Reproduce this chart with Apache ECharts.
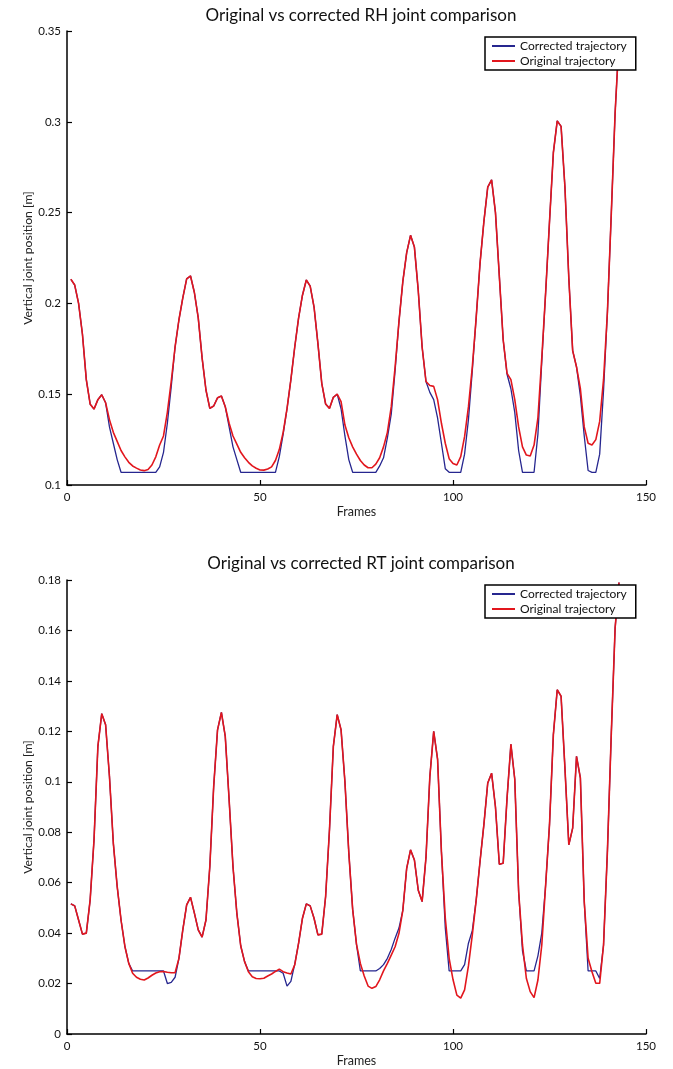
<!DOCTYPE html>
<html>
<head>
<meta charset="utf-8">
<title>RH / RT joint comparison</title>
<script src="https://cdn.jsdelivr.net/npm/echarts@6/dist/echarts.min.js"></script>
<style>
  html, body { margin: 0; padding: 0; background: #fff; }
  #chart { width: 673px; height: 1069px; }
</style>
</head>
<body>
<div id="chart"></div>
<script>
// x axis ticks (frames) and y axis ticks for the two panels
const frameTicks = [0, 50, 100, 150];
const rhTicks = [0.1, 0.15, 0.2, 0.25, 0.3, 0.35];
const rtTicks = [0, 0.02, 0.04, 0.06, 0.08, 0.1, 0.12, 0.14, 0.16, 0.18];

// RH joint, frames 1..143
const rhOriginal = [
  0.2133, 0.2101, 0.200, 0.183, 0.158, 0.1445, 0.1418, 0.147, 0.1497, 0.1453,
  0.136, 0.129, 0.124, 0.119, 0.1155, 0.1125, 0.1105, 0.1093, 0.1083, 0.1079,
  0.1085, 0.111, 0.1155, 0.122, 0.127, 0.140, 0.157, 0.176, 0.191, 0.203,
  0.2135, 0.2151, 0.206, 0.192, 0.170, 0.1523, 0.1422, 0.1435, 0.148, 0.149,
  0.1431, 0.134, 0.127, 0.1225, 0.118, 0.115, 0.1125, 0.1105, 0.1092, 0.1083,
  0.1082, 0.1088, 0.110, 0.1135, 0.1195, 0.129, 0.142, 0.158, 0.176, 0.192,
  0.2045, 0.2129, 0.2095, 0.198, 0.178, 0.156, 0.1446, 0.1422, 0.1483, 0.150,
  0.1459, 0.133, 0.126, 0.121, 0.117, 0.1135, 0.111, 0.1095, 0.1095, 0.1115,
  0.115, 0.121, 0.129, 0.143, 0.165, 0.190, 0.212, 0.228, 0.2375, 0.231,
  0.207, 0.176, 0.157, 0.1548, 0.1543, 0.147, 0.134, 0.123, 0.1145, 0.1119,
  0.111, 0.1156, 0.1266, 0.143, 0.165, 0.192, 0.222, 0.245, 0.264, 0.268,
  0.250, 0.215, 0.180, 0.1615, 0.158, 0.147, 0.132, 0.121, 0.1165, 0.116,
  0.122, 0.137, 0.170, 0.206, 0.245, 0.283, 0.3005, 0.2975, 0.264, 0.214,
  0.174, 0.165, 0.153, 0.132, 0.123, 0.122, 0.125, 0.135, 0.158, 0.195,
  0.249, 0.305, 0.345
];
const rhCorrected = [
  0.2133, 0.2101, 0.200, 0.183, 0.158, 0.1445, 0.1418, 0.147, 0.1497, 0.1453,
  0.132, 0.123, 0.114, 0.107, 0.107, 0.107, 0.107, 0.107, 0.107, 0.107,
  0.107, 0.107, 0.107, 0.110, 0.118, 0.134, 0.154, 0.176, 0.191, 0.203,
  0.2135, 0.2151, 0.206, 0.192, 0.170, 0.1523, 0.1422, 0.1435, 0.148, 0.149,
  0.1431, 0.132, 0.121, 0.114, 0.107, 0.107, 0.107, 0.107, 0.107, 0.107,
  0.107, 0.107, 0.107, 0.107, 0.1156, 0.128, 0.142, 0.158, 0.176, 0.192,
  0.2045, 0.2129, 0.2095, 0.198, 0.178, 0.156, 0.1446, 0.1422, 0.1483, 0.150,
  0.142, 0.127, 0.114, 0.107, 0.107, 0.107, 0.107, 0.107, 0.107, 0.107,
  0.1105, 0.115, 0.126, 0.139, 0.163, 0.190, 0.212, 0.228, 0.2375, 0.231,
  0.207, 0.176, 0.157, 0.151, 0.147, 0.137, 0.123, 0.109, 0.107, 0.107,
  0.107, 0.107, 0.117, 0.136, 0.163, 0.192, 0.222, 0.245, 0.264, 0.268,
  0.250, 0.215, 0.180, 0.161, 0.153, 0.140, 0.119, 0.107, 0.107, 0.107,
  0.107, 0.128, 0.168, 0.206, 0.245, 0.283, 0.3005, 0.2975, 0.264, 0.214,
  0.174, 0.165, 0.149, 0.127, 0.108, 0.107, 0.107, 0.117, 0.152, 0.195,
  0.249, 0.305, 0.345
];

// RT joint, frames 1..143
const rtOriginal = [
  0.0516, 0.0508, 0.0452, 0.0396, 0.040, 0.0532, 0.077, 0.114, 0.127, 0.1226,
  0.1021, 0.0757, 0.0585, 0.0452, 0.0347, 0.028, 0.0241, 0.0225, 0.0217, 0.0214,
  0.0222, 0.0233, 0.0242, 0.0247, 0.0248, 0.0245, 0.0243, 0.0243, 0.030, 0.0413,
  0.0512, 0.0542, 0.0479, 0.0413, 0.0384, 0.0452, 0.0664, 0.0981, 0.1206, 0.1275,
  0.118, 0.0929, 0.0664, 0.0479, 0.035, 0.0287, 0.0247, 0.0227, 0.022, 0.0219,
  0.0221, 0.023, 0.0238, 0.0248, 0.0257, 0.0247, 0.0242, 0.0238, 0.0274, 0.036,
  0.0459, 0.0516, 0.0508, 0.0459, 0.0393, 0.0396, 0.0545, 0.081, 0.114, 0.1266,
  0.1206, 0.100, 0.072, 0.0495, 0.0355, 0.028, 0.023, 0.019, 0.0181, 0.0188,
  0.0215, 0.025, 0.028, 0.0313, 0.0346, 0.0399, 0.049, 0.0657, 0.073, 0.069,
  0.057, 0.0525, 0.070, 0.102, 0.120, 0.109, 0.0723, 0.046, 0.030, 0.0216,
  0.0154, 0.0142, 0.0175, 0.027, 0.0393, 0.053, 0.0684, 0.083, 0.0995, 0.1034,
  0.090, 0.0673, 0.0677, 0.0935, 0.1149, 0.101, 0.0565, 0.0353, 0.0221, 0.0168,
  0.0144, 0.0214, 0.0353, 0.0591, 0.083, 0.1187, 0.1365, 0.1339, 0.1054, 0.075,
  0.0816, 0.1101, 0.1015, 0.0525, 0.030, 0.0247, 0.0201, 0.0201, 0.0353, 0.0723,
  0.1187, 0.161, 0.179
];
const rtCorrected = [
  0.0516, 0.0508, 0.0452, 0.0396, 0.040, 0.0532, 0.077, 0.114, 0.127, 0.1226,
  0.1021, 0.0757, 0.0585, 0.0452, 0.0347, 0.028, 0.025, 0.025, 0.025, 0.025,
  0.025, 0.025, 0.025, 0.025, 0.025, 0.020, 0.0205, 0.0225, 0.030, 0.0413,
  0.0512, 0.0542, 0.0479, 0.0413, 0.0384, 0.0452, 0.0664, 0.0981, 0.1206, 0.1275,
  0.118, 0.0929, 0.0664, 0.0479, 0.035, 0.0287, 0.025, 0.025, 0.025, 0.025,
  0.025, 0.025, 0.025, 0.025, 0.025, 0.0241, 0.019, 0.0209, 0.0277, 0.036,
  0.0459, 0.0516, 0.0508, 0.0459, 0.0393, 0.0396, 0.0545, 0.081, 0.114, 0.1266,
  0.1206, 0.100, 0.072, 0.0495, 0.0355, 0.025, 0.025, 0.025, 0.025, 0.025,
  0.026, 0.0275, 0.030, 0.0335, 0.038, 0.042, 0.049, 0.0657, 0.073, 0.069,
  0.057, 0.0525, 0.070, 0.102, 0.120, 0.109, 0.0723, 0.042, 0.025, 0.025,
  0.025, 0.025, 0.0275, 0.036, 0.041, 0.053, 0.0684, 0.083, 0.0995, 0.1034,
  0.090, 0.0673, 0.0677, 0.0935, 0.1149, 0.101, 0.0565, 0.033, 0.025, 0.025,
  0.025, 0.031, 0.040, 0.0591, 0.083, 0.1187, 0.1365, 0.1339, 0.1054, 0.075,
  0.0816, 0.1101, 0.1015, 0.0525, 0.025, 0.025, 0.025, 0.022, 0.0353, 0.0723,
  0.1187, 0.161, 0.179
];

const BLUE = '#26268f';
const RED = '#e2161d';
const FONT = 'Lato, "Noto Sans", sans-serif';

// turn a value list into [frame, value] pairs, frames start at 1
function toPairs(values) {
  return values.map((v, i) => [i + 1, v]);
}

function xAxisFor(gridIndex) {
  return {
    type: 'value',
    gridIndex: gridIndex,
    min: frameTicks[0],
    max: frameTicks[frameTicks.length - 1],
    interval: frameTicks[1] - frameTicks[0],
    name: 'Frames',
    nameLocation: 'middle',
    nameGap: 20,
    nameMoveOverlap: false,
    nameTextStyle: { color: '#222', fontSize: 12.5, fontFamily: FONT },
    axisLine: { show: true, lineStyle: { color: '#000', width: 1.5 } },
    axisTick: { show: true, inside: true, length: 5, lineStyle: { color: '#000', width: 1.2 } },
    axisLabel: { color: '#111', fontSize: 11.5, fontFamily: FONT, margin: 6 },
    splitLine: { show: false }
  };
}

function yAxisFor(gridIndex, ticks) {
  return {
    type: 'value',
    gridIndex: gridIndex,
    min: ticks[0],
    max: ticks[ticks.length - 1],
    interval: ticks[1] - ticks[0],
    name: 'Vertical joint position [m]',
    nameLocation: 'middle',
    nameGap: 33,
    // keep the name where nameGap puts it (v6 would push it past the labels)
    nameMoveOverlap: false,
    nameTextStyle: { color: '#222', fontSize: 12.2, fontFamily: FONT },
    axisLine: { show: true, lineStyle: { color: '#000', width: 1.5 } },
    axisTick: { show: true, inside: true, length: 5, lineStyle: { color: '#000', width: 1.2 } },
    axisLabel: {
      color: '#111', fontSize: 11.5, fontFamily: FONT, margin: 6,
      formatter: v => String(Math.round(v * 1000) / 1000)
    },
    splitLine: { show: false }
  };
}

function legendFor(top) {
  return {
    data: ['Corrected trajectory', 'Original trajectory'],
    orient: 'vertical',
    left: 485,
    top: top,
    backgroundColor: '#fff',
    borderColor: '#000',
    borderWidth: 1.5,
    borderRadius: 0,
    padding: [2, 9, 2, 7],
    itemGap: 1,
    itemWidth: 23,
    itemHeight: 2,
    icon: 'rect',
    selectedMode: false,
    z: 10,
    textStyle: { color: '#111', fontSize: 12, fontFamily: FONT, lineHeight: 14 }
  };
}

function lineSeries(name, color, width, values, gridIndex) {
  return {
    name: name,
    type: 'line',
    xAxisIndex: gridIndex,
    yAxisIndex: gridIndex,
    data: toPairs(values),
    showSymbol: false,
    symbol: 'none',
    animation: false,
    lineStyle: { color: color, width: width },
    itemStyle: { color: color }
  };
}

const chart = echarts.init(document.getElementById('chart'));
chart.setOption({
  backgroundColor: '#fff',
  animation: false,
  title: [
    {
      text: 'Original vs corrected RH joint comparison',
      left: 356, top: 2, textAlign: 'center',
      textStyle: { color: '#111', fontSize: 17, fontWeight: 'normal', fontFamily: FONT }
    },
    {
      text: 'Original vs corrected RT joint comparison',
      left: 356, top: 550, textAlign: 'center',
      textStyle: { color: '#111', fontSize: 17, fontWeight: 'normal', fontFamily: FONT }
    }
  ],
  legend: [legendFor(37), legendFor(585)],
  grid: [
    { left: 67, top: 31, width: 579, height: 454 },
    { left: 67, top: 580, width: 579, height: 454 }
  ],
  xAxis: [xAxisFor(0), xAxisFor(1)],
  yAxis: [yAxisFor(0, rhTicks), yAxisFor(1, rtTicks)],
  series: [
    lineSeries('Corrected trajectory', BLUE, 1.3, rhCorrected, 0),
    lineSeries('Original trajectory', RED, 1.6, rhOriginal, 0),
    lineSeries('Corrected trajectory', BLUE, 1.3, rtCorrected, 1),
    lineSeries('Original trajectory', RED, 1.6, rtOriginal, 1)
  ]
});
</script>
</body>
</html>
